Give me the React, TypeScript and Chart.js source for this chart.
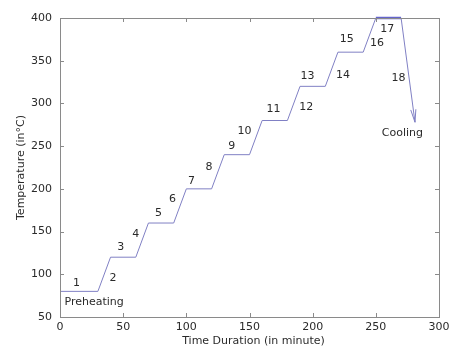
import React, { useEffect, useRef } from "react";
import { Chart, registerables } from "chart.js";

Chart.register(...registerables);

// Temperature profile (time in minutes, temperature in °C)
const profileTime = [0, 30, 40, 60, 70, 90, 100, 120, 130, 150, 160, 180, 190, 210, 220, 240, 250, 270, 281];
const profileTemp = [80, 80, 120, 120, 160, 160, 200, 200, 240, 240, 280, 280, 320, 320, 360, 360, 400, 400, 278];

// Final hold segment (drawn heavier)
const holdTime = [250, 270];
const holdTemp = [400, 400];

// Step annotations
const stepLabels = ["1", "2", "3", "4", "5", "6", "7", "8", "9", "10", "11", "12", "13", "14", "15", "16", "17", "18", "Preheating", "Cooling"];
const stepLabelTime = [13, 42, 48, 60, 78, 89, 104, 118, 136, 146, 169, 195, 196, 224, 227, 251, 259, 268, 27, 271];
const stepLabelTemp = [90, 96, 132, 147, 172, 188, 209, 226, 250, 267, 293, 296, 332, 333, 375, 371, 387, 330, 67, 265];

const xTicks = [0, 50, 100, 150, 200, 250, 300];
const yTicks = [50, 100, 150, 200, 250, 300, 350, 400];

const FONT = "DejaVu Sans";
const AXIS_COLOR = "#8a8a8a";
const TEXT_COLOR = "#2a2a2a";
const LINE_COLOR = "#8080c4";

const overlayPlugin = {
  id: "overlay",
  afterDatasetsDraw(chart: any) {
    const { ctx, chartArea, scales } = chart;
    const xs = scales.x;
    const ys = scales.y;
    const { left, right, top, bottom } = chartArea;
    ctx.save();
    // box
    ctx.strokeStyle = AXIS_COLOR;
    ctx.lineWidth = 1;
    ctx.strokeRect(Math.round(left) + 0.5, Math.round(top) + 0.5, Math.round(right - left), Math.round(bottom - top));
    // inward ticks
    const tl = 4;
    ctx.beginPath();
    xTicks.forEach((v) => {
      const px = Math.round(xs.getPixelForValue(v)) + 0.5;
      ctx.moveTo(px, bottom);
      ctx.lineTo(px, bottom - tl);
      ctx.moveTo(px, top);
      ctx.lineTo(px, top + tl);
    });
    yTicks.forEach((v) => {
      const py = Math.round(ys.getPixelForValue(v)) + 0.5;
      ctx.moveTo(left, py);
      ctx.lineTo(left + tl, py);
      ctx.moveTo(right, py);
      ctx.lineTo(right - tl, py);
    });
    ctx.stroke();

    // arrow head at end of cooling line
    const n = profileTime.length;
    const x1 = xs.getPixelForValue(profileTime[n - 2]);
    const y1 = ys.getPixelForValue(profileTemp[n - 2]);
    const x2 = xs.getPixelForValue(profileTime[n - 1]);
    const y2 = ys.getPixelForValue(profileTemp[n - 1]);
    const ang = Math.atan2(y2 - y1, x2 - x1);
    const hl = 13;
    const spread = 0.2;
    ctx.strokeStyle = LINE_COLOR;
    ctx.beginPath();
    ctx.moveTo(x2 - hl * Math.cos(ang - spread), y2 - hl * Math.sin(ang - spread));
    ctx.lineTo(x2, y2);
    ctx.lineTo(x2 - hl * Math.cos(ang + spread), y2 - hl * Math.sin(ang + spread));
    ctx.stroke();

    // annotations
    ctx.fillStyle = TEXT_COLOR;
    ctx.font = `11px "${FONT}"`;
    ctx.textAlign = "center";
    ctx.textBaseline = "middle";
    stepLabels.forEach((t, i) => {
      ctx.fillText(t, xs.getPixelForValue(stepLabelTime[i]), ys.getPixelForValue(stepLabelTemp[i]));
    });

    // axis titles
    ctx.fillText("Time Duration (in minute)", (left + right) / 2 + 4, bottom + 24);
    ctx.save();
    ctx.translate(21, (top + bottom) / 2);
    ctx.rotate(-Math.PI / 2);
    ctx.fillText("Temperature (in\u00B0C)", 0, 0);
    ctx.restore();
    ctx.restore();
  },
};

export default function App() {
  const ref = useRef<HTMLCanvasElement | null>(null);
  useEffect(() => {
    if (!ref.current) return;
    const chart = new Chart(ref.current, {
      type: "scatter",
      data: {
        datasets: [
          {
            data: profileTime.map((t, i) => ({ x: t, y: profileTemp[i] })),
            showLine: true,
            borderColor: LINE_COLOR,
            borderWidth: 1,
            pointRadius: 0,
            tension: 0,
          },
          {
            data: holdTime.map((t, i) => ({ x: t, y: holdTemp[i] })),
            showLine: true,
            borderColor: "#6464cc",
            borderWidth: 2.5,
            pointRadius: 0,
            clip: false,
          },
        ],
      },
      options: {
        responsive: false,
        animation: false,
        layout: { padding: { top: 18, right: 31, left: 0, bottom: 0 } },
        plugins: { legend: { display: false }, tooltip: { enabled: false } },
        scales: {
          x: {
            type: "linear",
            min: 0,
            max: 300,
            afterBuildTicks: (s: any) => {
              s.ticks = xTicks.map((v) => ({ value: v }));
            },
            afterFit: (s: any) => {
              s.height = 38;
            },
            grid: { display: false, drawTicks: false },
            border: { display: false },
            ticks: { color: TEXT_COLOR, font: { family: FONT, size: 11 }, padding: 4, maxRotation: 0 },
          },
          y: {
            type: "linear",
            min: 50,
            max: 400,
            afterBuildTicks: (s: any) => {
              s.ticks = yTicks.map((v) => ({ value: v }));
            },
            afterFit: (s: any) => {
              s.width = 60;
            },
            grid: { display: false, drawTicks: false },
            border: { display: false },
            ticks: { color: TEXT_COLOR, font: { family: FONT, size: 11 }, padding: 8 },
          },
        },
      },
      plugins: [overlayPlugin],
    });
    return () => chart.destroy();
  }, []);
  return (
    <div style={{ position: "fixed", left: 0, top: 0, width: 470, height: 355, background: "#fff" }}>
      <canvas ref={ref} width={470} height={355} />
    </div>
  );
}
